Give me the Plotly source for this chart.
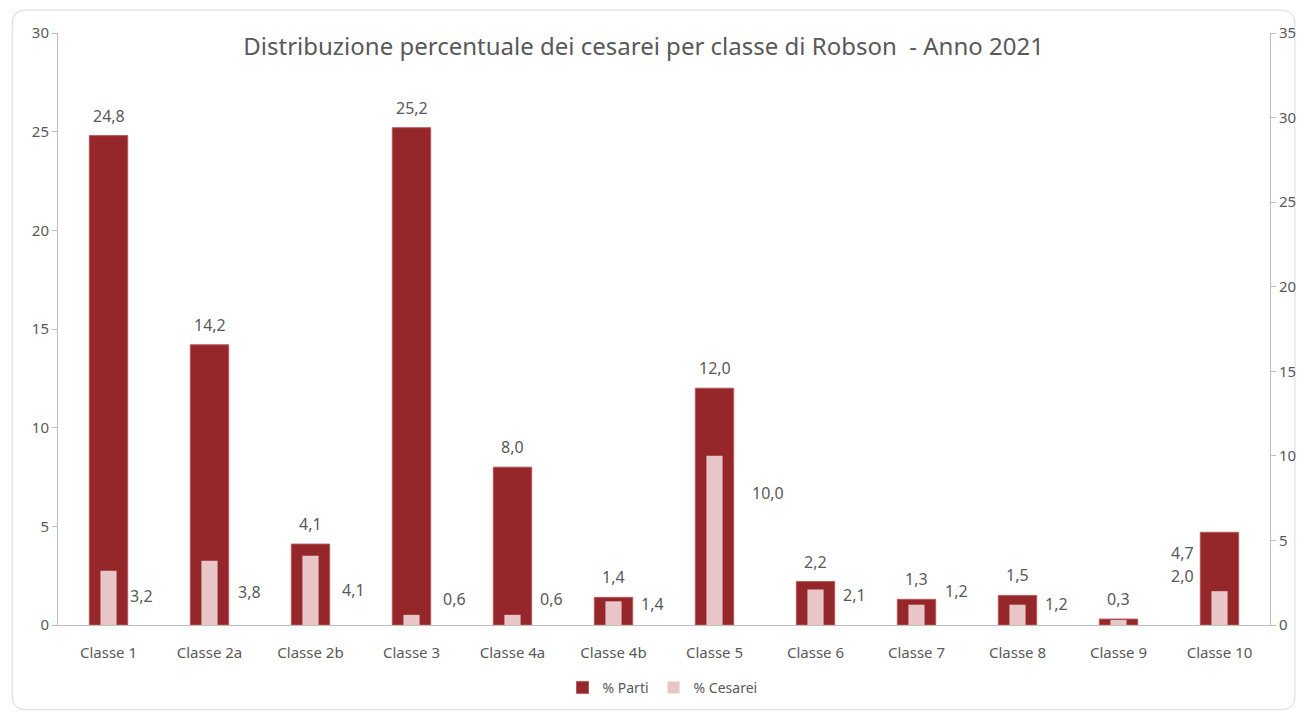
import plotly.graph_objects as go

categories = ["Classe 1", "Classe 2a", "Classe 2b", "Classe 3", "Classe 4a", "Classe 4b",
              "Classe 5", "Classe 6", "Classe 7", "Classe 8", "Classe 9", "Classe 10"]
parti = [24.8, 14.2, 4.1, 25.2, 8.0, 1.4, 12.0, 2.2, 1.3, 1.5, 0.3, 4.7]
cesarei = [3.2, 3.8, 4.1, 0.6, 0.6, 1.4, 10.0, 2.1, 1.2, 1.2, 0.3, 2.0]
left_ticks = [0, 5, 10, 15, 20, 25, 30]
right_ticks = [0, 5, 10, 15, 20, 25, 30, 35]

# label placement (layout only): pixel shifts
parti_dx = [0] * 11 + [-37]
parti_dy = [20] * 11 + [-21]
ces_label_px = [29, 33, 35, 26, 26, 21, 132, 30, 34, 21, None, 49]   # height above baseline in px
ces_dx = [33, 40, 43, 43, 39, 39, 53, 39, 40, 39, 0, -37]

DARK = "#95272A"
PINK = "#E8C6C8"
TXT = "#595959"
FONT = "Noto Sans, sans-serif"

W, H = 1308, 716
L, R, T, B = 58, 33, 33, 89
PW, PH = W - L - R, H - T - B

fig = go.Figure()
fig.add_trace(go.Bar(x=categories, y=parti, name="% Parti", marker=dict(color=DARK, line=dict(color="#B5585B", width=1)),
                     width=0.38, yaxis="y"))
fig.add_trace(go.Bar(x=categories, y=cesarei, name="% Cesarei", marker=dict(color=PINK, line=dict(width=0)),
                     width=0.16, yaxis="y2"))

ann = []
for i, (c, v) in enumerate(zip(categories, parti)):
    ann.append(dict(x=c, y=v, xref="x", yref="y", text=f"{v:.1f}".replace(".", ","), showarrow=False,
                    xshift=parti_dx[i], yshift=parti_dy[i], font=dict(size=16, color=TXT, family=FONT)))
for i, (c, v) in enumerate(zip(categories, cesarei)):
    if ces_label_px[i] is None:
        continue
    ann.append(dict(x=c, y=0, xref="x", yref="y2", text=f"{v:.1f}".replace(".", ","), showarrow=False,
                    xshift=ces_dx[i], yshift=ces_label_px[i], font=dict(size=16, color=TXT, family=FONT)))

# rounded border around chart
def px2paper(px, py):
    return (px - L) / PW, (H - B - py) / PH

x0, y0, x1, y1, r = 12, 10, 1300, 712, 14
def P(px, py):
    a, b = px2paper(px, py)
    return f"{a:.5f},{b:.5f}"
path = (f"M {P(x0 + r, y0)} L {P(x1 - r, y0)} Q {P(x1, y0)} {P(x1, y0 + r)} L {P(x1, y1 - r)} "
        f"Q {P(x1, y1)} {P(x1 - r, y1)} L {P(x0 + r, y1)} Q {P(x0, y1)} {P(x0, y1 - r)} "
        f"L {P(x0, y0 + r)} Q {P(x0, y0)} {P(x0 + r, y0)} Z")

fig.update_layout(
    width=W, height=H,
    margin=dict(l=L, r=R, t=T, b=B),
    paper_bgcolor="white", plot_bgcolor="white",
    barmode="overlay",
    title=dict(text="Distribuzione percentuale dei cesarei per classe di Robson  - Anno 2021",
               x=(646 - L) / PW, xref="paper", xanchor="center", y=1 - 47 / H, yanchor="middle",
               font=dict(size=24, color=TXT, family=FONT)),
    font=dict(family=FONT, color=TXT, size=14),
    xaxis=dict(showline=True, linecolor="#BFBFBF", linewidth=1, ticks="", showgrid=False,
               ticklabelstandoff=14, tickfont=dict(size=15, color=TXT)),
    yaxis=dict(range=[0, 30], tickvals=left_ticks, showline=True, linecolor="#BFBFBF", linewidth=1,
               ticks="outside", ticklen=5, tickcolor="#BFBFBF", showgrid=False, zeroline=False,
               tickfont=dict(size=15, color=TXT)),
    yaxis2=dict(range=[0, 35], tickvals=right_ticks, overlaying="y", side="right", showline=True,
                linecolor="#BFBFBF", linewidth=1, ticks="outside", ticklen=5, tickcolor="#BFBFBF",
                showgrid=False, zeroline=False, tickfont=dict(size=15, color=TXT)),
    legend=dict(orientation="h", x=(665 - L) / PW, xanchor="center", y=-(690 - (H - B)) / PH, yanchor="middle",
                font=dict(size=14, color=TXT), itemwidth=30),
    annotations=ann,
    shapes=[dict(type="path", path=path, xref="paper", yref="paper", line=dict(color="#D9D9D9", width=1),
                 layer="below")],
    showlegend=True,
)

fig.write_html("out.html", config={"displayModeBar": False},
               post_script="document.body.style.margin='0';document.body.style.overflow='hidden';")
